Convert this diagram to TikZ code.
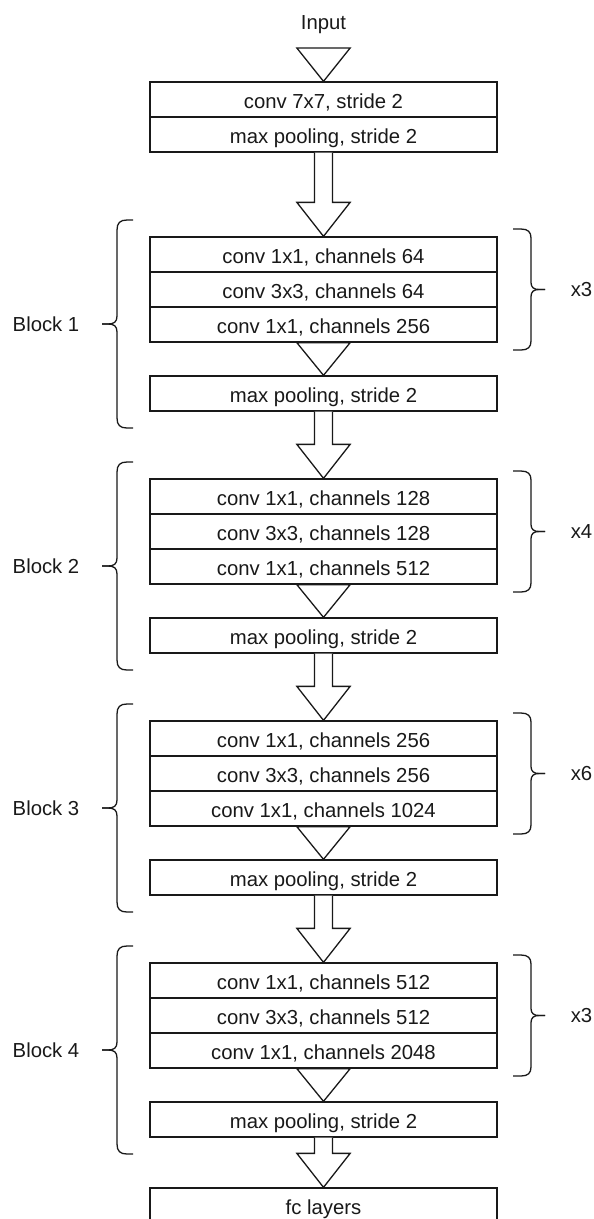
\documentclass[tikz,border=0pt]{standalone}
\usepackage{fontspec}
\setmainfont{Liberation Sans}
\usetikzlibrary{calc}

\tikzset{
  txt/.style={font=\fontsize{20.3}{24}\selectfont, text=black!90},
  layer/.style={txt, draw=black!90, line width=1.3pt, fill=white,
    minimum width=347pt, minimum height=35pt, inner sep=0pt,
    text height=17.5pt, text depth=0pt},
  lbl/.style={txt, inner sep=0pt, text height=14.6pt, text depth=0pt},
  hollow/.style={draw=black!90, line width=1.3pt, fill=white, line join=miter},
  brace/.style={draw=black!90, line width=1.3pt}
}

% white block arrow: shaft from the lower side of #1, head ending on #2
\newcommand\hollowarrow[2]{%
  \path[hollow] let \p1=#1, \p2=#2 in
    (\x1-9pt,\y1) -- (\x1-9pt,\y2+34pt) -- (\x1-26.65pt,\y2+34pt) -- (\x1,\y2)
    -- (\x1+26.65pt,\y2+34pt) -- (\x1+9pt,\y2+34pt) -- (\x1+9pt,\y1);}

% white arrow head only, filling the gap between #1 and #2
\newcommand\headtri[2]{%
  \path[hollow] let \p1=#1, \p2=#2 in
    (\x1-26.65pt,\y1) -- (\x1,\y2) -- (\x1+26.65pt,\y1) -- cycle;}

% curly brace opening to the right, from y=#1 to y=#2, label #3 named #4
\newcommand\leftbrace[4]{%
  \pgfmathsetmacro\bm{(#1+#2)/2}
  \draw[brace] (133,#1) -- (127,#1) .. controls (120,#1) and (117,#1+3) .. (117,#1+10)
    -- (117,\bm-8) .. controls (117,\bm-2) and (114,\bm) .. (108,\bm) -- (102,\bm);
  \draw[brace] (102,\bm) -- (108,\bm) .. controls (114,\bm) and (117,\bm+2) .. (117,\bm+8)
    -- (117,#2-10) .. controls (117,#2-3) and (120,#2) .. (127,#2) -- (133,#2);
  \node[lbl] (#4) at (46,\bm) {#3};}

% curly brace opening to the left, from y=#1 to y=#2, label #3 named #4
\newcommand\rightbrace[4]{%
  \pgfmathsetmacro\bm{(#1+#2)/2}
  \draw[brace] (513,#1) -- (521,#1) .. controls (528,#1) and (531,#1+3) .. (531,#1+9)
    -- (531,\bm-7) .. controls (531,\bm-2) and (534,\bm) .. (539,\bm) -- (545,\bm);
  \draw[brace] (545,\bm) -- (539,\bm) .. controls (534,\bm) and (531,\bm+2) .. (531,\bm+7)
    -- (531,#2-9) .. controls (531,#2-3) and (528,#2) .. (521,#2) -- (513,#2);
  \node[lbl] (#4) at (581.5,\bm) {#3};}

\begin{document}
\begin{tikzpicture}[x=1pt, y=-1pt]
  \useasboundingbox (0,0) rectangle (594,1219);
  \clip (0,0) rectangle (594,1219);

  % stem
  \node[lbl] (input) at (323.5,22.5) {Input};
  \coordinate (intop) at (323.5,48);
  \node[layer] (conv7) at (323.5,99.5) {conv 7x7, stride 2};
  \node[layer] (pool0) at (323.5,134.5) {max pooling, stride 2};

  % block 1
  \node[layer] (b1a) at (323.5,254.5) {conv 1x1, channels 64};
  \node[layer] (b1b) at (323.5,289.5) {conv 3x3, channels 64};
  \node[layer] (b1c) at (323.5,324.5) {conv 1x1, channels 256};
  \node[layer] (pool1) at (323.5,393.5) {max pooling, stride 2};

  % block 2
  \node[layer] (b2a) at (323.5,496.5) {conv 1x1, channels 128};
  \node[layer] (b2b) at (323.5,531.5) {conv 3x3, channels 128};
  \node[layer] (b2c) at (323.5,566.5) {conv 1x1, channels 512};
  \node[layer] (pool2) at (323.5,635.5) {max pooling, stride 2};

  % block 3
  \node[layer] (b3a) at (323.5,738.5) {conv 1x1, channels 256};
  \node[layer] (b3b) at (323.5,773.5) {conv 3x3, channels 256};
  \node[layer] (b3c) at (323.5,808.5) {conv 1x1, channels 1024};
  \node[layer] (pool3) at (323.5,877.5) {max pooling, stride 2};

  % block 4
  \node[layer] (b4a) at (323.5,980.5) {conv 1x1, channels 512};
  \node[layer] (b4b) at (323.5,1015.5) {conv 3x3, channels 512};
  \node[layer] (b4c) at (323.5,1050.5) {conv 1x1, channels 2048};
  \node[layer] (pool4) at (323.5,1119.5) {max pooling, stride 2};

  % head
  \node[layer] (fc) at (323.5,1205.5) {fc layers};

  % arrows between the layers
  \headtri{(intop)}{(conv7.north)}
  \hollowarrow{(pool0.south)}{(b1a.north)}
  \headtri{(b1c.south)}{(pool1.north)}
  \hollowarrow{(pool1.south)}{(b2a.north)}
  \headtri{(b2c.south)}{(pool2.north)}
  \hollowarrow{(pool2.south)}{(b3a.north)}
  \headtri{(b3c.south)}{(pool3.north)}
  \hollowarrow{(pool3.south)}{(b4a.north)}
  \headtri{(b4c.south)}{(pool4.north)}
  \hollowarrow{(pool4.south)}{(fc.north)}

  % block braces
  \leftbrace{220}{428}{Block 1}{blk1}
  \leftbrace{462}{670}{Block 2}{blk2}
  \leftbrace{704}{912}{Block 3}{blk3}
  \leftbrace{946}{1154}{Block 4}{blk4}

  % repeat braces
  \rightbrace{229}{350}{x3}{rep1}
  \rightbrace{471}{592}{x4}{rep2}
  \rightbrace{713}{834}{x6}{rep3}
  \rightbrace{955}{1076}{x3}{rep4}
\end{tikzpicture}
\end{document}
